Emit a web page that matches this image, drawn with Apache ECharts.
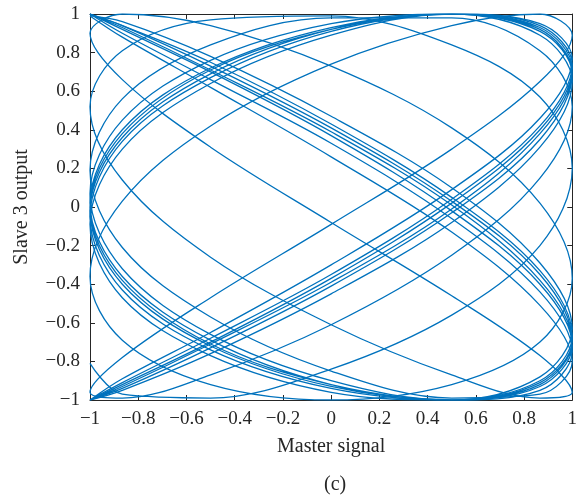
<!DOCTYPE html>
<html>
<head>
<meta charset="utf-8">
<script src="https://cdn.jsdelivr.net/npm/echarts@6/dist/echarts.min.js"></script>
<style>
  html, body { margin: 0; padding: 0; background: #fff; }
  #chart { width: 580px; height: 496px; }
</style>
</head>
<body>
<div id="chart"></div>
<script>
// master signal, one window of 6 periods (x positions)
var masterSignal = [
  -1, -0.866, -0.5, 0, 0.5, 0.866, 1, 0.866, 0.5, 0, -0.5, -0.866,
  -1, -0.866, -0.5, 0, 0.5, 0.866, 1, 0.866, 0.5, 0, -0.5, -0.866,
  -1, -0.866, -0.5, 0, 0.5, 0.866, 1, 0.866, 0.5, 0, -0.5, -0.866,
  -1, -0.866, -0.5, 0, 0.5, 0.866, 1, 0.866, 0.5, 0, -0.5, -0.866,
  -1, -0.866, -0.5, 0, 0.5, 0.866, 1, 0.866, 0.5, 0, -0.5, -0.866,
  -1, -0.866, -0.5, 0, 0.5, 0.866, 1, 0.866, 0.5, 0, -0.5, -0.866,
  -1
];

// slave 3 output for three consecutive windows
var slaveWin1 = [
  1.00, 0.94, 0.73, 0.41, 0.03, -0.35, -0.69, -0.91, -1.00, -0.93, -0.72, -0.40, -0.02, 0.36, 0.69, 0.92,
  1.00, 0.93, 0.72, 0.40, 0.02, -0.37, -0.70, -0.92, -1.00, -0.93, -0.71, -0.39, -0.01, 0.38, 0.70, 0.92,
  1.00, 0.92, 0.71, 0.38, 0.00, -0.38, -0.71, -0.92, -1.00, -0.92, -0.70, -0.38, 0.01, 0.39, 0.71, 0.93,
  1.00, 0.92, 0.70, 0.37, -0.02, -0.40, -0.72, -0.93, -1.00, -0.92, -0.69, -0.36, 0.02, 0.40, 0.72, 0.93,
  1.00, 0.91, 0.69, 0.35, -0.03, -0.41, -0.73, -0.94, -1.00
];
var slaveWin2 = [
  -1.00, -0.91, -0.68, -0.35, 0.04, 0.42, 0.74, 0.94,
  1.00, 0.91, 0.67, 0.34, -0.05, -0.43, -0.74, -0.94, -1.00, -0.90, -0.67, -0.33, 0.05, 0.43, 0.75, 0.94,
  1.00, 0.90, 0.66, 0.33, -0.06, -0.44, -0.75, -0.95, -1.00, -0.90, -0.66, -0.32, 0.07, 0.45, 0.76, 0.95,
  1.00, 0.89, 0.65, 0.31, -0.08, -0.45, -0.76, -0.95, -1.00, -0.89, -0.65, -0.30, 0.09, 0.46, 0.77, 0.95,
  1.00, 0.89, 0.64, 0.30, -0.09, -0.47, -0.77, -0.96, -1.00, -0.88, -0.63, -0.29, 0.10, 0.47, 0.78, 0.96,
  0.99
];
var slaveWin3 = [
  0.99, 0.88, 0.62, 0.26, -0.13, -0.51, -0.80, -0.97, -0.99, -0.85, -0.57, -0.21, 0.19, 0.56, 0.84, 0.98,
  0.98, 0.81, 0.52, 0.15, -0.25, -0.61, -0.87, -0.99, -0.96, -0.78, -0.47, -0.09, 0.30, 0.65, 0.89, 1.00,
  0.94, 0.74, 0.42, 0.03, -0.36, -0.69, -0.92, -1.00, -0.92, -0.70, -0.37, 0.02, 0.41, 0.73, 0.94, 1.00,
  0.90, 0.66, 0.31, -0.08, -0.46, -0.77, -0.96, -0.99, -0.87, -0.61, -0.26, 0.14, 0.52, 0.81, 0.97, 0.99,
  0.84, 0.57, 0.20, -0.20, -0.56, -0.84, -0.99, -0.97, -0.81
];

var slaveWindows = [slaveWin1, slaveWin2, slaveWin3];

var lineColor = '#0072BD';
var axisColor = '#262626';
var font = 'Liberation Serif';

function tickText(v) {
  var s = String(+v.toFixed(1));
  return s.replace('-', '\u2212');
}

function pairUp(ys) {
  return ys.map(function (y, i) { return [masterSignal[i], y]; });
}

var chart = echarts.init(document.getElementById('chart'), null, { renderer: 'canvas' });

var boxAxis = {
  min: -1, max: 1, interval: 0.2,
  axisLine: { show: true, onZero: false, lineStyle: { color: axisColor, width: 1 } },
  axisTick: { show: true, inside: true, length: 5, lineStyle: { color: axisColor } },
  splitLine: { show: false }
};

var option = {
  animation: false,
  backgroundColor: '#fff',
  grid: { left: 90, top: 14, width: 488, height: 386, containLabel: false },
  xAxis: [
    Object.assign({}, boxAxis, {
      type: 'value', position: 'bottom',
      name: 'Master signal', nameLocation: 'middle', nameGap: 37,
      nameTextStyle: { fontFamily: font, fontSize: 20, color: axisColor },
      axisLabel: { formatter: tickText, fontFamily: font, fontSize: 19, color: axisColor, margin: 10 }
    }),
    Object.assign({}, boxAxis, { type: 'value', position: 'top', axisLabel: { show: false } })
  ],
  yAxis: [
    Object.assign({}, boxAxis, {
      type: 'value', position: 'left',
      name: 'Slave 3 output', nameLocation: 'middle', nameGap: 58, nameRotate: 90,
      nameTextStyle: { fontFamily: font, fontSize: 20, color: axisColor },
      axisLabel: { formatter: tickText, fontFamily: font, fontSize: 19, color: axisColor, margin: 10 }
    }),
    Object.assign({}, boxAxis, { type: 'value', position: 'right', axisLabel: { show: false } })
  ],
  graphic: [{
    type: 'text', left: 324, top: 475,
    style: { text: '(c)', fontFamily: font, fontSize: 20, fill: axisColor }
  }],
  series: slaveWindows.map(function (ys) {
    return {
      type: 'line',
      data: pairUp(ys),
      showSymbol: false,
      smooth: 0.35,
      clip: true,
      lineStyle: { color: lineColor, width: 1.3 }
    };
  })
};

chart.setOption(option);
</script>
</body>
</html>
